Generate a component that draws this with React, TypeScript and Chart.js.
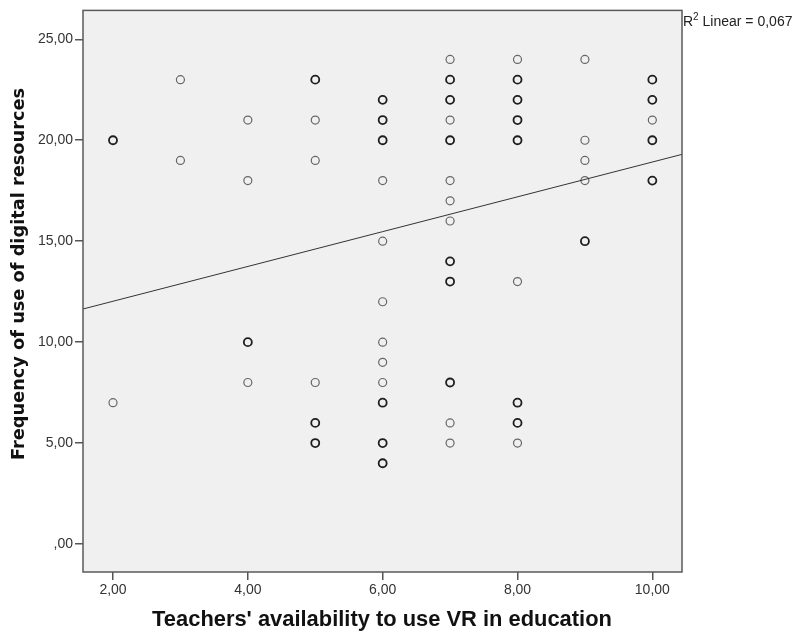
import { useEffect, useRef } from "react";
import { Chart, registerables } from "chart.js";

Chart.register(...registerables);

// Axis ticks
const xTickValues = [2, 4, 6, 8, 10];
const yTickValues = [0, 5, 10, 15, 20, 25];

// Axis bounds
const xMin = 1.555;
const xMax = 10.44;
const yMin = -1.385;
const yMax = 26.43;

// Observations shown once (light circles): [x, y]
const singlePoints: [number, number][] = [
  [2, 7],
  [3, 23], [3, 19],
  [4, 21], [4, 18], [4, 8],
  [5, 21], [5, 19], [5, 8],
  [6, 18], [6, 15], [6, 12], [6, 10], [6, 9], [6, 8],
  [7, 24], [7, 21], [7, 18], [7, 17], [7, 16], [7, 6], [7, 5],
  [8, 24], [8, 13], [8, 5],
  [9, 24], [9, 20], [9, 19], [9, 18],
  [10, 21],
];

// Overlapping observations (dark circles): [x, y]
const multiPoints: [number, number][] = [
  [2, 20],
  [4, 10],
  [5, 23], [5, 6], [5, 5],
  [6, 22], [6, 21], [6, 20], [6, 7], [6, 5], [6, 4],
  [7, 23], [7, 22], [7, 20], [7, 14], [7, 13], [7, 8],
  [8, 23], [8, 22], [8, 21], [8, 20], [8, 7], [8, 6],
  [9, 15],
  [10, 23], [10, 22], [10, 20], [10, 18],
];

// Linear fit
const fitIntercept = 10.3;
const fitSlope = 0.862;
const rSquaredLabel = "0,067";

const xTitle = "Teachers' availability to use VR in education";
const yTitle = "Frequency of use of digital resources";

const fmt = (v: number) => {
  const s = v.toFixed(2).replace(".", ",");
  return s.startsWith("0,") ? s.slice(1) : s;
};

export default function App() {
  const ref = useRef<HTMLCanvasElement | null>(null);

  useEffect(() => {
    if (!ref.current) return;
    const FONT = "'Liberation Sans', Arial, sans-serif";
    const Y_TITLE_FONT = "'DejaVu Sans', Verdana, sans-serif";

    const fitFont = (ctx: CanvasRenderingContext2D, family: string, text: string, target: number) => {
      ctx.font = `bold 18px ${family}`;
      const w = ctx.measureText(text).width;
      const size = (18 * target) / w;
      ctx.font = `bold ${size.toFixed(2)}px ${family}`;
    };

    const decor = {
      id: "decor",
      beforeDatasetsDraw(chart: any) {
        const { ctx, chartArea: a } = chart;
        ctx.save();
        ctx.fillStyle = "#F0F0F0";
        ctx.fillRect(a.left, a.top, a.right - a.left, a.bottom - a.top);
        ctx.restore();
      },
      afterDraw(chart: any) {
        const { ctx, chartArea: a } = chart;
        ctx.save();
        ctx.strokeStyle = "#5a5a5a";
        ctx.lineWidth = 1.5;
        ctx.strokeRect(a.left, a.top, a.right - a.left, a.bottom - a.top);

        // axis titles
        ctx.fillStyle = "#111";
        ctx.textAlign = "center";
        ctx.textBaseline = "alphabetic";
        fitFont(ctx, FONT, xTitle, 460);
        ctx.fillText(xTitle, 382, 626);
        ctx.save();
        ctx.translate(19, 274);
        ctx.rotate(-Math.PI / 2);
        ctx.textBaseline = "middle";
        fitFont(ctx, Y_TITLE_FONT, yTitle, 372);
        ctx.fillText(yTitle, 0, 0);
        ctx.restore();

        // R² label
        ctx.fillStyle = "#222";
        ctx.textAlign = "left";
        ctx.textBaseline = "alphabetic";
        ctx.font = `14px ${FONT}`;
        let x = a.right + 1;
        const base = 26;
        ctx.fillText("R", x, base);
        x += ctx.measureText("R").width;
        ctx.font = `10px ${FONT}`;
        ctx.fillText("2", x, base - 6);
        x += ctx.measureText("2").width;
        ctx.font = `14px ${FONT}`;
        ctx.fillText(" Linear = " + rSquaredLabel, x, base);
        ctx.restore();
      },
    };

    const chart = new Chart(ref.current, {
      type: "scatter",
      data: {
        datasets: [
          {
            type: "line",
            data: [
              { x: xMin, y: fitIntercept + fitSlope * xMin },
              { x: xMax, y: fitIntercept + fitSlope * xMax },
            ],
            borderColor: "#333",
            borderWidth: 1,
            pointRadius: 0,
            fill: false,
          } as any,
          {
            data: singlePoints.map(([x, y]) => ({ x, y })),
            pointStyle: "circle",
            pointRadius: 4,
            backgroundColor: "rgba(0,0,0,0)",
            borderColor: "#666",
            borderWidth: 1.2,
          },
          {
            data: multiPoints.map(([x, y]) => ({ x, y })),
            pointStyle: "circle",
            pointRadius: 4,
            backgroundColor: "rgba(0,0,0,0)",
            borderColor: "#1e1e1e",
            borderWidth: 1.8,
          },
        ],
      },
      options: {
        animation: false,
        responsive: false,
        devicePixelRatio: 1,
        layout: { padding: { left: 0, top: 9, right: 112, bottom: 0 } },
        plugins: { legend: { display: false }, tooltip: { enabled: false } },
        scales: {
          x: {
            type: "linear",
            min: xMin,
            max: xMax,
            afterBuildTicks: (s: any) => {
              s.ticks = xTickValues.map((value) => ({ value }));
            },
            afterFit: (s: any) => {
              s.height = 59;
            },
            ticks: {
              callback: (v: any) => fmt(Number(v)),
              color: "#333",
              font: { family: FONT, size: 14 },
              padding: 2,
              maxRotation: 0,
            },
            grid: {
              drawOnChartArea: false,
              drawTicks: true,
              tickLength: 8,
              color: "#555",
              lineWidth: 1.5,
            },
            border: { display: false },
          },
          y: {
            type: "linear",
            min: yMin,
            max: yMax,
            afterBuildTicks: (s: any) => {
              s.ticks = yTickValues.map((value) => ({ value }));
            },
            afterFit: (s: any) => {
              s.width = 83;
            },
            ticks: {
              callback: (v: any) => fmt(Number(v)),
              color: "#333",
              font: { family: FONT, size: 14 },
              padding: 2,
            },
            grid: {
              drawOnChartArea: false,
              drawTicks: true,
              tickLength: 8,
              color: "#555",
              lineWidth: 1.5,
            },
            border: { display: false },
          },
        },
      },
      plugins: [decor],
    });
    return () => chart.destroy();
  }, []);

  return (
    <div style={{ position: "absolute", left: 0, top: 0, width: 794, height: 631, background: "#fff" }}>
      <canvas ref={ref} width={794} height={631} style={{ display: "block" }} />
    </div>
  );
}
